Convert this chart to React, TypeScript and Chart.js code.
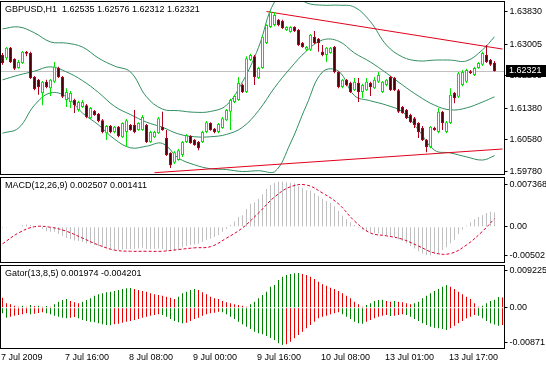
import React, { useEffect, useRef } from 'react';
import { Chart, registerables } from 'chart.js';
Chart.register(...registerables);

// ---------- categories / tick labels ----------
const nSlots = 126; // 124 hourly bars + 2 empty slots of right margin
const slotLabels = Array.from({ length: nSlots }, (_, i) => String(i));
const xTickIdx = [0, 16, 32, 48, 64, 80, 96, 112];
const xTickText = ['7 Jul 2009', '7 Jul 16:00', '8 Jul 08:00', '9 Jul 00:00', '9 Jul 16:00', '10 Jul 08:00', '13 Jul 01:00', '13 Jul 17:00'];

const mainTickValues = [1.6383, 1.63005, 1.62205, 1.6138, 1.6058, 1.5978];
const mainTickLabels = ['1.63830', '1.63005', '1.62205', '1.61380', '1.60580', '1.59780'];
const macdTickValues = [0.007368, 0, -0.00502];
const macdTickLabels = ['0.007368', '0.00', '-0.00502'];
const gatorTickValues = [0.009225, 0, -0.00871];
const gatorTickLabels = ['0.009225', '0.00', '-0.00871'];

const mainTitle = 'GBPUSD,H1  1.62535 1.62576 1.62312 1.62321';
const macdTitle = 'MACD(12,26,9) 0.002507 0.001411';
const gatorTitle = 'Gator(13,8,5) 0.001974 -0.004201';
const bidPrice = 1.62321;
const bidLabel = '1.62321';

// ---------- OHLC ----------
const openP = [
  1.6273, 1.6265, 1.6291, 1.6263, 1.6240, 1.6253, 1.6281, 1.6278, 1.6217, 1.6210,
  1.6177, 1.6205, 1.6189, 1.6205, 1.6240, 1.6217, 1.6159, 1.6154, 1.6159, 1.6134,
  1.6141, 1.6146, 1.6113, 1.6131, 1.6124, 1.6108, 1.6075, 1.6093, 1.6078, 1.6091,
  1.6065, 1.6078, 1.6096, 1.6096, 1.6083, 1.6083, 1.6096, 1.6053, 1.6065, 1.6075,
  1.6091, 1.6063, 1.6025, 1.6000, 1.6007, 1.6020, 1.6053, 1.6068, 1.6058, 1.6053,
  1.6053, 1.6078, 1.6101, 1.6086, 1.6078, 1.6088, 1.6108, 1.6129, 1.6154, 1.6159,
  1.6197, 1.6179, 1.6260, 1.6270, 1.6215, 1.6240, 1.6303, 1.6344, 1.6349, 1.6362,
  1.6359, 1.6336, 1.6331, 1.6344, 1.6336, 1.6303, 1.6286, 1.6286, 1.6319, 1.6314,
  1.6281, 1.6273, 1.6278, 1.6293, 1.6230, 1.6192, 1.6210, 1.6202, 1.6184, 1.6202,
  1.6179, 1.6184, 1.6202, 1.6189, 1.6205, 1.6179, 1.6197, 1.6217, 1.6215, 1.6184,
  1.6141, 1.6134, 1.6121, 1.6113, 1.6101, 1.6088, 1.6058, 1.6040, 1.6088, 1.6078,
  1.6129, 1.6078, 1.6101, 1.6177, 1.6167, 1.6197, 1.6205, 1.6232, 1.6222, 1.6240,
  1.6248, 1.6273, 1.6260, 1.62535,
];
const highP = [
  1.6278, 1.6293, 1.6293, 1.6265, 1.6260, 1.6283, 1.6283, 1.6281, 1.6220, 1.6212,
  1.6207, 1.6210, 1.6212, 1.6255, 1.6243, 1.6220, 1.6189, 1.6182, 1.6162, 1.6157,
  1.6159, 1.6149, 1.6141, 1.6134, 1.6126, 1.6111, 1.6096, 1.6096, 1.6093, 1.6093,
  1.6103, 1.6111, 1.6098, 1.6134, 1.6103, 1.6121, 1.6098, 1.6081, 1.6081, 1.6116,
  1.6129, 1.6083, 1.6027, 1.6030, 1.6035, 1.6055, 1.6073, 1.6070, 1.6060, 1.6055,
  1.6081, 1.6106, 1.6103, 1.6088, 1.6101, 1.6116, 1.6136, 1.6162, 1.6172, 1.6217,
  1.6200, 1.6270, 1.6276, 1.6273, 1.6243, 1.6321, 1.6351, 1.6384, 1.6382, 1.6364,
  1.6362, 1.6346, 1.6346, 1.6346, 1.6339, 1.6306, 1.6296, 1.6326, 1.6334, 1.6316,
  1.6298, 1.6293, 1.6293, 1.6296, 1.6232, 1.6212, 1.6212, 1.6205, 1.6215, 1.6215,
  1.6200, 1.6215, 1.6205, 1.6217, 1.6230, 1.6207, 1.6212, 1.6220, 1.6217, 1.6187,
  1.6144, 1.6136, 1.6124, 1.6116, 1.6103, 1.6093, 1.6060, 1.6093, 1.6091, 1.6139,
  1.6131, 1.6106, 1.6189, 1.6179, 1.6230, 1.6235, 1.6238, 1.6235, 1.6243, 1.6255,
  1.6281, 1.6298, 1.6263, 1.62576,
];
const lowP = [
  1.6248, 1.6260, 1.6253, 1.6235, 1.6238, 1.6250, 1.6270, 1.6212, 1.6184, 1.6172,
  1.6146, 1.6189, 1.6169, 1.6202, 1.6215, 1.6164, 1.6141, 1.6139, 1.6126, 1.6129,
  1.6139, 1.6113, 1.6111, 1.6119, 1.6103, 1.6075, 1.6058, 1.6075, 1.6075, 1.6065,
  1.6063, 1.6040, 1.6081, 1.6075, 1.6081, 1.6081, 1.6050, 1.6050, 1.6063, 1.6073,
  1.6081, 1.6017, 1.5987, 1.5997, 1.6005, 1.6015, 1.6050, 1.6048, 1.6043, 1.6032,
  1.6050, 1.6075, 1.6081, 1.6075, 1.6075, 1.6086, 1.6106, 1.6083, 1.6151, 1.6157,
  1.6177, 1.6177, 1.6258, 1.6197, 1.6212, 1.6238, 1.6301, 1.6341, 1.6346, 1.6346,
  1.6339, 1.6334, 1.6329, 1.6331, 1.6296, 1.6291, 1.6283, 1.6283, 1.6301, 1.6281,
  1.6270, 1.6255, 1.6276, 1.6227, 1.6189, 1.6189, 1.6194, 1.6177, 1.6182, 1.6154,
  1.6164, 1.6182, 1.6169, 1.6187, 1.6202, 1.6177, 1.6194, 1.6182, 1.6182, 1.6126,
  1.6124, 1.6111, 1.6101, 1.6088, 1.6063, 1.6055, 1.6027, 1.6037, 1.6081, 1.6075,
  1.6083, 1.6075, 1.6098, 1.6151, 1.6164, 1.6194, 1.6202, 1.6225, 1.6220, 1.6238,
  1.6245, 1.6253, 1.6245, 1.62312,
];
const closeP = [
  1.6253, 1.6291, 1.6255, 1.6238, 1.6255, 1.6281, 1.6276, 1.6215, 1.6187, 1.6192,
  1.6205, 1.6192, 1.6210, 1.6243, 1.6217, 1.6167, 1.6179, 1.6177, 1.6146, 1.6154,
  1.6154, 1.6116, 1.6139, 1.6121, 1.6106, 1.6078, 1.6093, 1.6078, 1.6091, 1.6068,
  1.6101, 1.6108, 1.6083, 1.6078, 1.6101, 1.6116, 1.6053, 1.6078, 1.6078, 1.6113,
  1.6083, 1.6020, 1.5994, 1.6027, 1.6032, 1.6053, 1.6070, 1.6050, 1.6045, 1.6037,
  1.6078, 1.6103, 1.6083, 1.6078, 1.6098, 1.6113, 1.6134, 1.6159, 1.6169, 1.6202,
  1.6179, 1.6265, 1.6273, 1.6217, 1.6240, 1.6319, 1.6349, 1.6382, 1.6374, 1.6349,
  1.6341, 1.6344, 1.6344, 1.6334, 1.6298, 1.6293, 1.6293, 1.6324, 1.6303, 1.6303,
  1.6273, 1.6291, 1.6291, 1.6230, 1.6192, 1.6210, 1.6197, 1.6179, 1.6205, 1.6179,
  1.6197, 1.6205, 1.6192, 1.6210, 1.6222, 1.6205, 1.6210, 1.6184, 1.6184, 1.6129,
  1.6126, 1.6113, 1.6103, 1.6096, 1.6078, 1.6058, 1.6040, 1.6091, 1.6083, 1.6129,
  1.6101, 1.6103, 1.6172, 1.6164, 1.6227, 1.6230, 1.6235, 1.6227, 1.6240, 1.6253,
  1.6278, 1.6255, 1.6248, 1.62321,
];

// ---------- Bollinger bands (read every 4 bars) ----------
const bandIdx = [0, 4, 8, 12, 16, 20, 24, 28, 32, 36, 40, 44, 48, 52, 56, 60, 64, 68, 72, 76, 80, 84, 88, 92, 96, 100, 104, 108, 112, 116, 120, 123];
const bandUpper = [1.6339, 1.6344, 1.6329, 1.6306, 1.6303, 1.6293, 1.6265, 1.6245, 1.6230, 1.6167, 1.6136, 1.6132, 1.6128, 1.6130, 1.6146, 1.6205, 1.6292, 1.6407, 1.6432, 1.6405, 1.6399, 1.6399, 1.6394, 1.6357, 1.6298, 1.6268, 1.6258, 1.6260, 1.6260, 1.6258, 1.6286, 1.6319];
const bandMiddle = [1.6210, 1.6222, 1.6232, 1.6243, 1.6230, 1.6208, 1.6178, 1.6143, 1.6122, 1.6103, 1.6090, 1.6073, 1.6066, 1.6066, 1.6072, 1.6090, 1.6132, 1.6190, 1.6240, 1.6283, 1.6311, 1.6308, 1.6278, 1.6255, 1.6227, 1.6197, 1.6169, 1.6146, 1.6134, 1.6139, 1.6154, 1.6167];
const bandLower = [1.6075, 1.6088, 1.6146, 1.6177, 1.6167, 1.6126, 1.6096, 1.6060, 1.6038, 1.6042, 1.6049, 1.6012, 1.5995, 1.5985, 1.5983, 1.5978, 1.5980, 1.5977, 1.6050, 1.6146, 1.6230, 1.6232, 1.6170, 1.6157, 1.6146, 1.6129, 1.6083, 1.6032, 1.6025, 1.6015, 1.6007, 1.6018];

// ---------- trend lines ----------
const resistIdx = [66, 125];
const resistVal = [1.6383, 1.6288];
const supportIdx = [38, 125];
const supportVal = [1.5975, 1.6035];

// ---------- MACD ----------
const macdMain = [
  -0.0002, -0.0002, -0.0001, -0.0001, 0.0001, 0.0003, 0.0004, 0.0003, 0.0001, -0.0001,
  -0.0004, -0.0008, -0.0009, -0.0009, -0.0013, -0.0016, -0.0020, -0.0022, -0.0024, -0.0025,
  -0.0027, -0.0029, -0.0030, -0.0032, -0.0034, -0.0036, -0.0037, -0.0038, -0.0040, -0.0041,
  -0.0040, -0.0039, -0.0039, -0.0039, -0.0038, -0.0037, -0.0039, -0.0039, -0.0039, -0.0038,
  -0.0039, -0.0042, -0.0043, -0.0042, -0.0040, -0.0036, -0.0034, -0.0032, -0.0031, -0.0030,
  -0.0027, -0.0023, -0.0021, -0.0018, -0.0015, -0.0009, -0.0004, 0.0003, 0.0009, 0.0017,
  0.0020, 0.0031, 0.0040, 0.0043, 0.0049, 0.0057, 0.0066, 0.0073, 0.0077, 0.0079,
  0.0079, 0.0078, 0.0077, 0.0076, 0.0071, 0.0068, 0.0064, 0.0063, 0.0059, 0.0054,
  0.0049, 0.0045, 0.0042, 0.0036, 0.0028, 0.0019, 0.0013, 0.0008, 0.0003, -0.0002,
  -0.0005, -0.0008, -0.0010, -0.0011, -0.0012, -0.0015, -0.0015, -0.0016, -0.0018, -0.0022,
  -0.0025, -0.0029, -0.0034, -0.0038, -0.0043, -0.0047, -0.0050, -0.0050, -0.0048, -0.0046,
  -0.0041, -0.0036, -0.0029, -0.0023, -0.0013, -0.0005, 0.0002, 0.0008, 0.0013, 0.0017,
  0.0020, 0.0024, 0.0026, 0.002507,
];
const signalIdx = bandIdx;
const macdSignal = [-0.0030, -0.0011, 0.0000, -0.0001, -0.0008, -0.0020, -0.0032, -0.0041, -0.0043, -0.0043, -0.0043, -0.0040, -0.0037, -0.0035, -0.0020, -0.0002, 0.0024, 0.0052, 0.0070, 0.0073, 0.0059, 0.0040, 0.0010, -0.0011, -0.0016, -0.0022, -0.0034, -0.0046, -0.0047, -0.0032, -0.0008, 0.001411];

// ---------- Gator ----------
const gatorUp = [
  0.00251, 0.00109, 0.00084, 0.00051, 0.00026, 0.00051, 0.00026, 0.00068, 0.00043, 0.00051,
  0.00026, 0.00043, 0.00026, 0.00084, 0.00151, 0.00193, 0.00218, 0.00168, 0.00134, 0.00109,
  0.00151, 0.00193, 0.00235, 0.00301, 0.00335, 0.00360, 0.00385, 0.00402, 0.00418, 0.00443,
  0.00468, 0.00485, 0.00493, 0.00468, 0.00443, 0.00418, 0.00402, 0.00360, 0.00335, 0.00318,
  0.00301, 0.00276, 0.00251, 0.00218, 0.00276, 0.00360, 0.00402, 0.00443, 0.00468, 0.00443,
  0.00385, 0.00335, 0.00276, 0.00235, 0.00218, 0.00168, 0.00134, 0.00109, 0.00084, 0.00068,
  0.00051, 0.00026, 0.00084, 0.00151, 0.00235, 0.00318, 0.00402, 0.00527, 0.00569, 0.00694,
  0.00777, 0.00819, 0.00844, 0.00861, 0.00869, 0.00844, 0.00819, 0.00777, 0.00719, 0.00652,
  0.00585, 0.00552, 0.00502, 0.00468, 0.00418, 0.00360, 0.00301, 0.00235, 0.00151, 0.00084,
  0.00026, 0.00068, 0.00109, 0.00168, 0.00193, 0.00201, 0.00168, 0.00151, 0.00168, 0.00151,
  0.00134, 0.00109, 0.00084, 0.00109, 0.00151, 0.00235, 0.00301, 0.00360, 0.00418, 0.00468,
  0.00527, 0.00569, 0.00527, 0.00468, 0.00402, 0.00335, 0.00276, 0.00218, 0.00109, 0.00026,
  0.00051, 0.00109, 0.00168, 0.001974, 0.00268, 0.00255,
];
const gatorDown = [
  -0.00141, -0.00250, -0.00225, -0.00200, -0.00183, -0.00166, -0.00141, -0.00166, -0.00149, -0.00133,
  -0.00116, -0.00141, -0.00166, -0.00200, -0.00225, -0.00250, -0.00266, -0.00250, -0.00233, -0.00266,
  -0.00308, -0.00333, -0.00350, -0.00367, -0.00392, -0.00417, -0.00433, -0.00442, -0.00417, -0.00400,
  -0.00375, -0.00350, -0.00333, -0.00308, -0.00283, -0.00250, -0.00225, -0.00200, -0.00183, -0.00166,
  -0.00183, -0.00225, -0.00283, -0.00333, -0.00367, -0.00392, -0.00375, -0.00333, -0.00283, -0.00250,
  -0.00200, -0.00166, -0.00141, -0.00124, -0.00099, -0.00116, -0.00166, -0.00225, -0.00283, -0.00350,
  -0.00417, -0.00475, -0.00534, -0.00600, -0.00642, -0.00667, -0.00709, -0.00759, -0.00809, -0.00893,
  -0.00934, -0.00918, -0.00851, -0.00767, -0.00684, -0.00600, -0.00517, -0.00433, -0.00350, -0.00266,
  -0.00225, -0.00200, -0.00166, -0.00141, -0.00116, -0.00166, -0.00225, -0.00283, -0.00350, -0.00392,
  -0.00400, -0.00350, -0.00308, -0.00266, -0.00225, -0.00200, -0.00183, -0.00208, -0.00200, -0.00183,
  -0.00166, -0.00183, -0.00225, -0.00283, -0.00333, -0.00392, -0.00433, -0.00475, -0.00500, -0.00517,
  -0.00534, -0.00559, -0.00517, -0.00450, -0.00392, -0.00333, -0.00266, -0.00225, -0.00183, -0.00200,
  -0.00266, -0.00333, -0.00392, -0.004201, -0.00450, -0.00433,
];

// ---------- styles ----------
const FONT_FAMILY = '"Liberation Sans", Arial, sans-serif';
const FONT = '9px ' + FONT_FAMILY;
const bullColor = '#00e600';
const bearFill = '#4a0008';
const bearEdge = '#b0001c';
const bandColor = '#2f8f5f';
const trendColor = '#e0001a';
const gGreen = '#008000';
const gRed = '#e80000';

function sparse(idx: number[], vals: number[]) {
  const a: (number | null)[] = new Array(nSlots).fill(null);
  idx.forEach((k, j) => { a[k] = vals[j]; });
  return a;
}

function yAxis(min: number, max: number, values: number[], labels: string[]) {
  return {
    position: 'right',
    min, max,
    afterBuildTicks: (scale: any) => { scale.ticks = values.map((v) => ({ value: v })); },
    afterFit: (scale: any) => { scale.width = 41.5; scale.paddingTop = 0; scale.paddingBottom = 0; },
    ticks: { color: '#000', font: { size: 9, family: FONT_FAMILY }, padding: 2, autoSkip: false,
      callback: (_v: any, i: number) => labels[i] },
    grid: { display: true, drawOnChartArea: false, drawTicks: true, tickLength: 3, color: '#000' },
    border: { display: false },
  };
}

function hiddenX() {
  return { type: 'category', display: false, offset: true, grid: { display: false } };
}

function panePlugin(title: string) {
  return {
    id: 'paneFrame',
    afterDraw(chart: any) {
      const { ctx, chartArea: ca } = chart;
      ctx.save();
      ctx.strokeStyle = '#000';
      ctx.lineWidth = 1;
      const l = Math.floor(ca.left) + 0.5;
      const r = Math.floor(ca.right) + 0.5;
      const t = Math.round(ca.top) - 0.5;
      const b = Math.round(ca.bottom) + 0.5;
      ctx.strokeRect(l, t, r - l, b - t);
      ctx.fillStyle = '#000';
      ctx.font = FONT;
      ctx.textBaseline = 'middle';
      ctx.textAlign = 'left';
      ctx.fillText(title, ca.left + 4.5, ca.top + 8);
      ctx.restore();
    },
  };
}

const bidPlugin = {
  id: 'bidLine',
  beforeDatasetsDraw(chart: any) {
    const { ctx, chartArea: ca } = chart;
    const y = Math.round(chart.scales.y.getPixelForValue(bidPrice)) + 0.5;
    ctx.save();
    ctx.strokeStyle = '#c0c0c0';
    ctx.lineWidth = 1;
    ctx.beginPath();
    ctx.moveTo(ca.left, y);
    ctx.lineTo(ca.right, y);
    ctx.stroke();
    ctx.restore();
  },
  afterDraw(chart: any) {
    const { ctx, chartArea: ca } = chart;
    const y = Math.round(chart.scales.y.getPixelForValue(bidPrice));
    ctx.save();
    ctx.fillStyle = '#000';
    ctx.fillRect(Math.floor(ca.right) + 2, y - 6, 46, 12);
    ctx.fillStyle = '#fff';
    ctx.font = FONT;
    ctx.textBaseline = 'middle';
    ctx.textAlign = 'left';
    ctx.fillText(bidLabel, Math.floor(ca.right) + 5, y);
    ctx.restore();
  },
};

const baseOptions = {
  animation: false,
  responsive: false,
  devicePixelRatio: 1,
  events: [],
  plugins: { legend: { display: false }, tooltip: { enabled: false } },
};

function mainConfig(): any {
  const isBull = closeP.map((c, i) => c >= openP[i]);
  const edge = isBull.map((b) => (b ? bullColor : bearEdge));
  const lineDs = (data: (number | null)[], color: string, tension: number, order: number) => ({
    type: 'line', data, borderColor: color, borderWidth: 1, pointRadius: 0, spanGaps: true, tension, order, fill: false,
  });
  return {
    type: 'bar',
    data: {
      labels: slotLabels,
      datasets: [
        { type: 'bar', data: openP.map((o, i) => [o, closeP[i]]), backgroundColor: isBull.map((b) => (b ? '#ffffff' : bearFill)),
          borderColor: edge, borderWidth: 1, borderSkipped: false, barThickness: 3, grouped: false, order: 0, minBarLength: 1, inflateAmount: 0 },
        { type: 'bar', data: lowP.map((l, i) => [l, highP[i]]), backgroundColor: edge, borderWidth: 0,
          barThickness: 1, grouped: false, order: 1, inflateAmount: 0 },
        lineDs(sparse(resistIdx, resistVal), trendColor, 0, 2),
        lineDs(sparse(supportIdx, supportVal), trendColor, 0, 2),
        lineDs(sparse(bandIdx, bandUpper), bandColor, 0.4, 3),
        lineDs(sparse(bandIdx, bandMiddle), bandColor, 0.4, 3),
        lineDs(sparse(bandIdx, bandLower), bandColor, 0.4, 3),
      ],
    },
    options: {
      ...baseOptions,
      layout: { padding: { left: 0.5, top: 2, right: 0, bottom: 193 } },
      scales: { x: hiddenX(), y: yAxis(1.59717, 1.64071, mainTickValues, mainTickLabels) },
    },
    plugins: [bidPlugin, panePlugin(mainTitle)],
  };
}

function macdConfig(): any {
  return {
    type: 'bar',
    data: {
      labels: slotLabels,
      datasets: [
        { type: 'line', data: sparse(signalIdx, macdSignal), borderColor: '#e00030', borderWidth: 1, borderDash: [3, 2],
          pointRadius: 0, spanGaps: true, tension: 0.4, order: 0, fill: false },
        { type: 'bar', data: macdMain, backgroundColor: '#c0c0c0', borderWidth: 0, barThickness: 1, grouped: false, order: 1, inflateAmount: 0 },
      ],
    },
    options: {
      ...baseOptions,
      layout: { padding: { left: 0.5, top: 178, right: 0, bottom: 105 } },
      scales: { x: hiddenX(), y: yAxis(-0.006185, 0.008533, macdTickValues, macdTickLabels) },
    },
    plugins: [panePlugin(macdTitle)],
  };
}

function gatorConfig(): any {
  const upColors = gatorUp.map((v, i) => (i === 0 ? gRed : v > gatorUp[i - 1] ? gGreen : gRed));
  const dnColors = gatorDown.map((v, i) => (i === 0 ? gGreen : Math.abs(v) > Math.abs(gatorDown[i - 1]) ? gGreen : gRed));
  return {
    type: 'bar',
    data: {
      labels: slotLabels,
      datasets: [
        { type: 'bar', data: gatorUp, backgroundColor: upColors, borderWidth: 0, barThickness: 1, grouped: false, inflateAmount: 0 },
        { type: 'bar', data: gatorDown, backgroundColor: dnColors, borderWidth: 0, barThickness: 1, grouped: false, inflateAmount: 0 },
      ],
    },
    options: {
      ...baseOptions,
      layout: { padding: { left: 0.5, top: 266, right: 0, bottom: 0 } },
      scales: {
        x: {
          type: 'category', display: true, offset: true,
          grid: { display: false, drawTicks: false },
          border: { display: false },
          afterFit: (scale: any) => { scale.height = 19; scale.paddingLeft = 0; scale.paddingRight = 0; },
          ticks: {
            autoSkip: false, maxRotation: 0, minRotation: 0, align: 'start', labelOffset: -1.5, padding: 4,
            color: '#000', font: { size: 9, family: FONT_FAMILY },
            callback: (_v: any, i: number) => {
              const k = xTickIdx.indexOf(i);
              return k >= 0 ? xTickText[k] : '';
            },
          },
        },
        y: yAxis(-0.010095, 0.010446, gatorTickValues, gatorTickLabels),
      },
    },
    plugins: [panePlugin(gatorTitle)],
  };
}

export default function App() {
  const r1 = useRef<HTMLCanvasElement>(null);
  const r2 = useRef<HTMLCanvasElement>(null);
  const r3 = useRef<HTMLCanvasElement>(null);

  useEffect(() => {
    Chart.defaults.font.family = FONT_FAMILY;
    const charts = [
      new Chart(r1.current as HTMLCanvasElement, mainConfig()),
      new Chart(r2.current as HTMLCanvasElement, macdConfig()),
      new Chart(r3.current as HTMLCanvasElement, gatorConfig()),
    ];
    return () => charts.forEach((c) => c.destroy());
  }, []);

  const cs: React.CSSProperties = { position: 'absolute', left: 0, top: 0, width: 546, height: 367 };
  return (
    <div style={{ position: 'absolute', left: 0, top: 0, width: 546, height: 367, background: '#fff', overflow: 'hidden' }}>
      <canvas ref={r1} width={546} height={367} style={cs} />
      <canvas ref={r2} width={546} height={367} style={cs} />
      <canvas ref={r3} width={546} height={367} style={cs} />
    </div>
  );
}
